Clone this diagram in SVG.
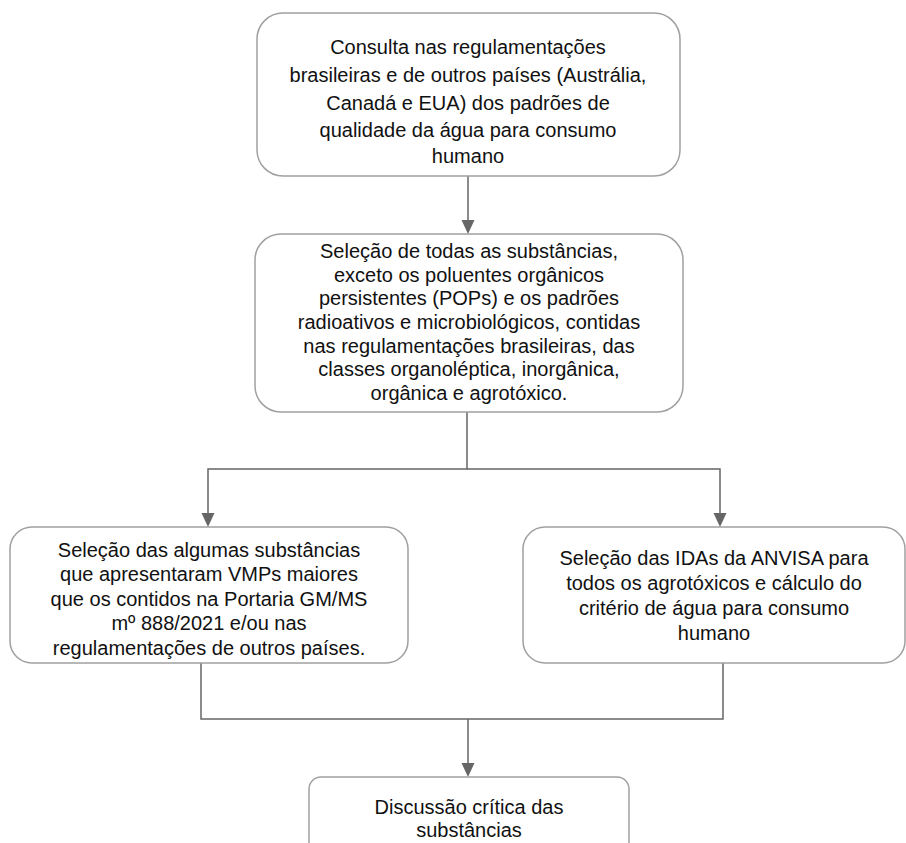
<svg xmlns="http://www.w3.org/2000/svg" width="906" height="843" viewBox="0 0 906 843">
<style>
.box{fill:#ffffff;stroke:#a0a0a0;stroke-width:1.5}
.t{font-family:"Liberation Sans",Arial,sans-serif;font-size:20px;fill:#111111;text-anchor:middle}
.c{fill:none;stroke:#666666;stroke-width:1.5}
.ah{fill:#666666}
</style>
<rect width="906" height="843" fill="#ffffff"/>
<g id="connectors">
<path class="c" d="M468,176 V221"/>
<path class="c" d="M467,411 V469 H208 V514"/>
<path class="c" d="M467,469 H720 V514"/>
<path class="c" d="M201,663 V719 H723 V663"/>
<path class="c" d="M468,719 V764"/>
<path class="ah" d="M461.5,220 H474.5 L468,234 Z"/>
<path class="ah" d="M201.5,513 H214.5 L208,527 Z"/>
<path class="ah" d="M713.5,513 H726.5 L720,527 Z"/>
<path class="ah" d="M461.5,763 H474.5 L468,777 Z"/>
</g>
<g id="n1">
<rect class="box" x="257" y="13" width="423" height="163" rx="26"/>
<text class="t"><tspan x="468" y="54">Consulta nas regulamentações</tspan><tspan x="468" y="82">brasileiras e de outros países (Austrália,</tspan><tspan x="468" y="110">Canadá e EUA) dos padrões de</tspan><tspan x="468" y="137">qualidade da água para consumo</tspan><tspan x="468" y="163">humano</tspan></text>
</g>
<g id="n2">
<rect class="box" x="255" y="234" width="428" height="178" rx="26"/>
<text class="t"><tspan x="469" y="258">Seleção de todas as substâncias,</tspan><tspan x="469" y="282">exceto os poluentes orgânicos</tspan><tspan x="469" y="305">persistentes (POPs) e os padrões</tspan><tspan x="469" y="329">radioativos e microbiológicos, contidas</tspan><tspan x="469" y="353">nas regulamentações brasileiras, das</tspan><tspan x="469" y="376">classes organoléptica, inorgânica,</tspan><tspan x="469" y="400">orgânica e agrotóxico.</tspan></text>
</g>
<g id="n3">
<rect class="box" x="10" y="527" width="398" height="136" rx="22"/>
<text class="t"><tspan x="209" y="557">Seleção das algumas substâncias</tspan><tspan x="209" y="581">que apresentaram VMPs maiores</tspan><tspan x="209" y="606">que os contidos na Portaria GM/MS</tspan><tspan x="209" y="630">mº 888/2021 e/ou nas</tspan><tspan x="209" y="655">regulamentações de outros países.</tspan></text>
</g>
<g id="n4">
<rect class="box" x="523" y="527" width="382" height="136" rx="22"/>
<text class="t"><tspan x="714" y="565">Seleção das IDAs da ANVISA para</tspan><tspan x="714" y="590">todos os agrotóxicos e cálculo do</tspan><tspan x="714" y="615">critério de água para consumo</tspan><tspan x="714" y="640">humano</tspan></text>
</g>
<g id="n5">
<rect class="box" x="309" y="777" width="320" height="90" rx="12"/>
<text class="t"><tspan x="469" y="814">Discussão crítica das</tspan><tspan x="469" y="837">substâncias</tspan></text>
</g>
</svg>
